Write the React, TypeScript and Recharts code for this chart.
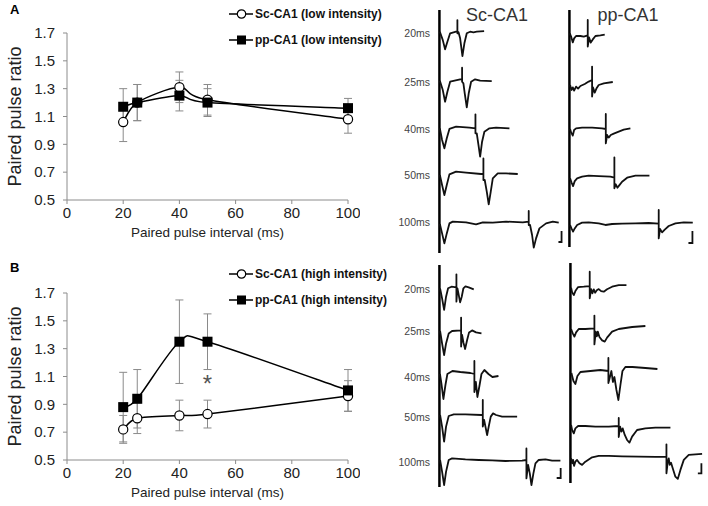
import React from 'react';
import {
  LineChart,
  Line,
  XAxis,
  YAxis,
  ErrorBar,
  Legend,
  ReferenceDot,
  ReferenceLine,
} from 'recharts';

// paired pulse ratio, mean +/- SEM
const intervals = [20, 25, 40, 50, 100];
const scLowMean = [1.06, 1.2, 1.31, 1.22, 1.08];
const scLowErr = [0.14, 0.13, 0.11, 0.11, 0.1];
const ppLowMean = [1.17, 1.2, 1.25, 1.2, 1.16];
const ppLowErr = [0.13, 0.13, 0.11, 0.1, 0.07];
const scHighMean = [0.72, 0.8, 0.82, 0.83, 0.96];
const scHighErr = [0.1, 0.11, 0.11, 0.1, 0.11];
const ppHighMean = [0.88, 0.94, 1.35, 1.35, 1.0];
const ppHighErr = [0.25, 0.21, 0.3, 0.2, 0.15];
const yTicks = [0.5, 0.7, 0.9, 1.1, 1.3, 1.5, 1.7];
const xTicks = [0, 20, 40, 60, 80, 100];
const rowLabels = ['20ms', '25ms', '40ms', '50ms', '100ms'];

// example traces: [time ms, mV]
type Pt = [number, number];
const scA20: Pt[] = [[0.5,0],[3.8,-0.42],[6.4,-0.88],[9,-0.5],[12.1,-0.08],[18.8,0],[20.3,0],[20.3,0.58],[20.3,-0.08],[21.5,-0.02],[23.4,-0.33],[26,-1.22],[28.2,-0.58],[30.9,-0.08],[34.7,0],[38.4,-0.03],[42.2,0],[50.5,0.03]];
const scA25: Pt[] = [[0.5,0],[3.8,-0.47],[6.4,-1.05],[9,-0.55],[12.1,-0.05],[19.6,0.03],[23.4,0.07],[25.6,0.07],[25.6,0.65],[25.6,-0.05],[27.1,-0.13],[28.6,-0.63],[30.9,-1.33],[33.1,-0.63],[35.8,-0.05],[40.3,0.07],[46,0],[59.1,-0.02]];
const scA40: Pt[] = [[0.5,0],[3,-0.58],[5.6,-1.0],[8.3,-0.5],[11.3,-0.03],[18.8,0.08],[33.9,0.03],[40.7,0],[40.7,0.7],[40.7,-0.25],[42.2,-0.25],[44.1,-0.83],[46,-1.42],[48.2,-0.67],[50.8,-0.17],[56.5,0],[64,0.03],[79.1,0]];
const scA50: Pt[] = [[0.5,0],[3,-0.5],[5.6,-1.0],[8.3,-0.5],[11.3,0.03],[18.8,0.17],[30.1,0.12],[47.1,0.05],[49.7,0.05],[49.7,0.83],[49.7,-0.25],[51.2,-0.25],[53.5,-0.83],[55.7,-1.47],[58,-0.83],[60.3,-0.17],[65.9,0.08],[75.3,0.08],[88.5,0.05]];
const scA100: Pt[] = [[0.5,0],[3,-0.47],[5.6,-0.97],[8.3,-0.47],[11.3,0.03],[15.1,0.12],[30.1,0.08],[41.4,-0.02],[49,0.08],[60.3,0.07],[75.3,0.12],[94.2,0.08],[100.9,0.12],[100.9,0.65],[100.9,-0.05],[102.4,-0.05],[104.7,-0.55],[106.6,-1.18],[109.2,-0.72],[113,-0.22],[120.5,0.03],[128.1,0.12],[134.8,0.07]];
const ppA20: Pt[] = [[0.4,0.08],[1.9,-0.08],[3.8,-0.37],[5.3,-0.17],[7.5,-0.05],[12.4,-0.05],[16.2,-0.08],[20.7,-0.02],[20.7,0.75],[20.7,-0.58],[22.2,-0.12],[24.1,-0.38],[26.4,-0.22],[29.4,-0.05],[35,-0.02],[39.9,0.02]];
const ppA25: Pt[] = [[0.75,0.05],[2.3,-0.2],[3.8,-0.07],[5.3,-0.23],[7.5,-0.03],[9.8,-0.13],[12.4,0],[17.3,0.1],[21.8,0.22],[25.6,0.3],[25.6,0.97],[25.6,-0.53],[26.7,-0.07],[28.6,-0.33],[30.5,-0.13],[33.1,0.05],[38.8,0.13],[49,0.2]];
const ppA40: Pt[] = [[0.75,0],[1.9,-0.17],[3.8,-0.33],[5.3,-0.05],[7.5,0.03],[14.3,0.07],[25.6,0.07],[36.9,0.03],[41.1,0],[41.1,0.75],[41.1,-0.72],[42.6,-0.3],[44.4,-0.43],[46.7,-0.3],[50.1,-0.23],[55.7,-0.13],[61.4,-0.03],[68.9,0.03]];
const ppA50: Pt[] = [[0.75,-0.03],[2.3,-0.23],[4.1,-0.42],[6,-0.17],[8.7,-0.03],[14.3,0.05],[21.8,0.1],[33.1,0.08],[46.3,0.05],[50.8,0],[50.8,1.02],[50.8,-0.53],[52.4,-0.33],[54.2,-0.5],[56.5,-0.37],[59.5,-0.2],[65.2,0],[74.6,0.1],[90.4,0.1]];
const ppA100: Pt[] = [[0.75,0],[2.3,-0.17],[4.1,-0.33],[6,-0.17],[8.7,0],[14.3,0.12],[21.8,0.13],[33.1,0.08],[40.7,0],[48.2,0.05],[59.5,0.07],[74.6,0.08],[89.6,0.1],[100.9,0.07],[100.9,0.75],[100.9,-0.67],[102.4,-0.2],[104.7,-0.37],[107.7,-0.23],[112.2,-0.05],[119.8,0.08],[129.2,0.13],[139.4,0.12]];
const scB20: Pt[] = [[0.75,0],[3,-0.5],[5.3,-1.08],[7.5,-0.42],[9.8,0],[13.6,0.08],[19.2,0.05],[19.2,0.7],[19.2,-0.67],[20.3,0],[21.8,-0.33],[23.4,-0.7],[25.2,-0.42],[27.1,0],[29.4,0.1],[33.1,0.05],[38.8,-0.05]];
const scB25: Pt[] = [[0.75,0],[3,-0.62],[5.3,-1.2],[7.5,-0.62],[10.5,-0.12],[14.3,0],[24.5,0.03],[24.5,0.67],[24.5,-0.78],[25.6,-0.2],[27.1,-0.57],[29,-0.9],[31.3,-0.45],[33.5,-0.07],[36.9,0.03],[41.4,-0.07],[47.5,-0.12]];
const scB40: Pt[] = [[0.6,0],[2.3,-0.5],[4.5,-1.25],[6.8,-0.55],[9,0],[14.7,0.15],[23.7,0.1],[35,0.05],[39.5,0],[39.5,0.65],[39.5,-0.9],[41.2,-0.4],[42.9,-1.15],[45.2,-0.6],[47.5,0],[50.8,0.2],[55.4,0],[59.9,-0.15],[66.7,-0.1]];
const scB50: Pt[] = [[0.75,0],[3,-0.58],[5.3,-1.33],[7.5,-0.58],[10.5,-0.05],[16.2,0.03],[29.4,0.03],[47.5,0],[49,0],[49,0.75],[49,-0.58],[50.5,-0.25],[52,-0.58],[53.9,-1.0],[55.7,-0.58],[58,-0.08],[60.6,0.08],[64,0],[70.8,-0.08],[87.8,-0.08]];
const scB100: Pt[] = [[0.75,0],[3,-0.58],[5.3,-1.25],[7.5,-0.58],[10.5,0],[14.3,0.08],[29.4,0.03],[44.4,0],[59.5,-0.02],[74.6,-0.05],[93.4,-0.03],[98.3,0],[98.3,0.58],[98.3,-0.92],[100.2,-0.25],[102.1,-0.67],[104,-1.25],[106.2,-0.67],[108.5,-0.17],[112.2,0],[119.8,0.03],[127.3,-0.03],[136.7,-0.03]];
const ppB20: Pt[] = [[0.75,0],[1.9,-0.23],[3.8,-0.37],[5.6,-0.17],[8.7,0.03],[15.1,0.05],[21.8,0.08],[21.8,0.8],[21.8,-0.53],[23.4,-0.07],[24.9,-0.28],[26.4,-0.08],[27.9,-0.25],[29.8,-0.13],[32,-0.07],[34.7,-0.17],[37.7,-0.2],[41.4,-0.08],[47.1,0.05],[54.6,0.13],[63.3,0.13]];
const ppB25: Pt[] = [[0.75,0],[2.6,-0.22],[4.5,-0.38],[6.4,-0.17],[9.4,0],[16.9,0],[27.1,0.03],[27.1,0.67],[27.1,-0.77],[28.6,-0.13],[29.8,-0.37],[30.9,-0.13],[32.8,-0.4],[35.8,-0.57],[38.8,-0.63],[41.4,-0.43],[47.1,-0.13],[54.6,0],[69.7,0.1],[84.7,0.15]];
const ppB40: Pt[] = [[1.1,0],[3.4,-0.4],[5.6,-0.55],[7.9,-0.15],[11.3,0.05],[22.6,0.1],[33.9,0.15],[42.9,0.1],[42.9,0.75],[42.9,-0.5],[45.2,-0.1],[46.3,0.1],[48,-0.45],[49.7,-0.2],[52,-0.85],[54.2,-1.35],[56.5,-0.6],[58.8,0.1],[62.1,0.3],[70.1,0.3],[84.7,0.25],[98.3,0.2]];
const ppB50: Pt[] = [[0.75,0],[1.9,-0.25],[3.8,-0.42],[5.6,-0.17],[8.7,-0.05],[16.9,-0.05],[28.2,-0.08],[43.3,-0.08],[54.6,-0.05],[54.6,0.35],[54.6,-0.6],[56.1,-0.08],[57.6,-0.33],[59.1,-0.17],[61.4,-0.5],[64,-0.75],[66.7,-0.88],[69.7,-0.58],[75.3,-0.25],[84.7,-0.17],[96,-0.13],[113,-0.13]];
const ppB100: Pt[] = [[0.75,0],[1.9,-0.25],[3,-0.08],[4.1,-0.38],[5.6,-0.17],[7.5,-0.08],[10.2,-0.25],[13.2,-0.33],[16.9,-0.17],[24.5,0.05],[32,0.12],[43.3,0.12],[58.4,0.1],[77.2,0.08],[96,0.07],[108.5,0.07],[108.5,0.7],[108.5,-0.75],[110,-0.17],[111.1,0],[112.2,-0.33],[113.7,-0.22],[115.6,-0.5],[118.6,-0.92],[121.3,-1.03],[124.3,-0.58],[128.1,-0.08],[133.7,0.17],[148.8,0.22]];

// scale bars (drawn on the 100ms row)
const barScA: Pt[] = [[134.5,-0.9],[138,-0.9],[138,-0.35]];
const barPpA: Pt[] = [[134.5,-0.9],[139,-0.9],[139,-0.3]];
const barScB: Pt[] = [[132.5,-0.9],[137,-0.9],[137,-0.4]];
const barPpB: Pt[] = [[144,-0.75],[148,-0.75],[148,-0.25]];

const TPX = 0.885; // px per ms
const VPX = 20; // px per mV
const FONT = '"Liberation Sans", Arial, sans-serif';

// excel-like smoothed line
const smoothCurve: any = (context: any) => {
  let pts: number[][] = [];
  return {
    areaStart() {},
    areaEnd() {},
    lineStart() {
      pts = [];
    },
    point(x: number, y: number) {
      pts.push([+x, +y]);
    },
    lineEnd() {
      const n = pts.length;
      if (!n) return;
      context.moveTo(pts[0][0], pts[0][1]);
      const k = 0.15;
      for (let i = 0; i < n - 1; i++) {
        const p0 = pts[i - 1] || pts[i];
        const p1 = pts[i];
        const p2 = pts[i + 1];
        const p3 = pts[i + 2] || p2;
        context.bezierCurveTo(
          p1[0] + (p2[0] - p0[0]) * k,
          p1[1] + (p2[1] - p0[1]) * k,
          p2[0] - (p3[0] - p1[0]) * k,
          p2[1] - (p3[1] - p1[1]) * k,
          p2[0],
          p2[1]
        );
      }
    },
  };
};

const circleDot = (p: any) => (
  <circle key={`c${p.index}`} cx={p.cx} cy={p.cy} r={4.6} fill="#fff" stroke="#000" strokeWidth={1.2} />
);
const squareDot = (p: any) => (
  <rect key={`s${p.index}`} x={p.cx - 5} y={p.cy - 5} width={10} height={10} fill="#000" />
);

function LegendIcon({ square }: { square?: boolean }) {
  return (
    <svg width={26} height={12} style={{ marginRight: 1, flex: 'none' }}>
      <line x1={1} y1={6} x2={25} y2={6} stroke="#000" strokeWidth={1.5} />
      {square ? (
        <rect x={9} y={1.5} width={9} height={9} fill="#000" />
      ) : (
        <circle cx={13.5} cy={6} r={4.2} fill="#fff" stroke="#000" strokeWidth={1.2} />
      )}
    </svg>
  );
}

function PprChart({
  top,
  sc,
  scErr,
  pp,
  ppErr,
  tag,
  star,
}: {
  top: number;
  sc: number[];
  scErr: number[];
  pp: number[];
  ppErr: number[];
  tag: string;
  star?: boolean;
}) {
  const data = intervals.map((x, i) => ({ x, sc: sc[i], scErr: scErr[i], pp: pp[i], ppErr: ppErr[i] }));
  const axisTick = { fontSize: 15, fill: '#222' };
  return (
    <div style={{ position: 'absolute', left: 0, top }}>
      <LineChart width={360} height={250} data={data} margin={{ top: 33, right: 12, bottom: 10, left: 7 }}>
        <XAxis
          dataKey="x"
          type="number"
          domain={[0, 100]}
          ticks={xTicks}
          tick={axisTick}
          tickSize={4}
          tickMargin={3}
          stroke="#8c8c8c"
          height={40}
          label={{ value: 'Paired pulse interval (ms)', position: 'insideBottom', offset: 3, fontSize: 13.5, fill: '#222' }}
        />
        <YAxis
          type="number"
          domain={[0.5, 1.7]}
          ticks={yTicks}
          tickFormatter={(v: number) => v.toFixed(1)}
          tick={axisTick}
          tickSize={4}
          tickMargin={8}
          stroke="#8c8c8c"
          width={60}
          label={{
            value: 'Paired pulse ratio',
            angle: -90,
            position: 'insideLeft',
            offset: 8,
            fontSize: 18,
            fill: '#222',
            style: { textAnchor: 'middle' },
          }}
        />
        <Legend
          layout="vertical"
          align="center"
          verticalAlign="middle"
          wrapperStyle={{ position: 'absolute', left: 228, top: 6, width: 180 }}
          content={() => (
            <div style={{ fontFamily: FONT, fontWeight: 'bold', fontSize: 12, color: '#111', whiteSpace: 'nowrap' }}>
              <div style={{ display: 'flex', alignItems: 'center', height: 16 }}>
                <LegendIcon />
                {`Sc-CA1 (${tag} intensity)`}
              </div>
              <div style={{ display: 'flex', alignItems: 'center', height: 16, marginTop: 10 }}>
                <LegendIcon square />
                {`pp-CA1 (${tag} intensity)`}
              </div>
            </div>
          )}
        />
        <Line
          dataKey="sc"
          type={smoothCurve}
          stroke="#000"
          strokeWidth={1.5}
          dot={circleDot}
          isAnimationActive={false}
        >
          <ErrorBar dataKey="scErr" width={4} stroke="#8a8a8a" strokeWidth={1} direction="y" />
        </Line>
        <Line
          dataKey="pp"
          type={smoothCurve}
          stroke="#000"
          strokeWidth={1.5}
          dot={squareDot}
          isAnimationActive={false}
        >
          <ErrorBar dataKey="ppErr" width={4} stroke="#8a8a8a" strokeWidth={1} direction="y" />
        </Line>
        {star && (
          <ReferenceDot
            x={50}
            y={1.05}
            r={0}
            stroke="none"
            label={{ value: '*', position: 'center', fontSize: 24, fill: '#555' }}
          />
        )}
      </LineChart>
    </div>
  );
}

const toPts = (arr: Pt[]) => arr.map(([t, v]) => ({ t, v }));

function TraceColumn({
  x0,
  top,
  bottom,
  baselines,
  traces,
  bar,
  tMax,
}: {
  x0: number;
  top: number;
  bottom: number;
  baselines: number[];
  traces: Pt[][];
  bar: Pt[];
  tMax: number;
}) {
  const T0 = -5;
  const height = bottom - top;
  const width = (tMax - T0) * TPX;
  return (
    <div style={{ position: 'absolute', left: x0 + T0 * TPX, top }}>
      <LineChart width={width} height={height} margin={{ top: 0, right: 0, bottom: 0, left: 0 }}>
        <XAxis type="number" dataKey="t" domain={[T0, tMax]} hide allowDataOverflow />
        {baselines.map((b, i) => (
          <YAxis
            key={i}
            yAxisId={i}
            type="number"
            hide
            allowDataOverflow
            domain={[-(bottom - b) / VPX, (b - top) / VPX]}
          />
        ))}
        <ReferenceLine x={0} yAxisId={0} stroke="#000" strokeWidth={2.5} />
        {traces.map((tr, i) => (
          <Line
            key={i}
            yAxisId={i}
            data={toPts(tr)}
            dataKey="v"
            type="linear"
            stroke="#111"
            strokeWidth={1.8}
            strokeLinejoin="round"
            dot={false}
            isAnimationActive={false}
          />
        ))}
        <Line
          yAxisId={baselines.length - 1}
          data={toPts(bar)}
          dataKey="v"
          type="linear"
          stroke="#111"
          strokeWidth={1.8}
          dot={false}
          isAnimationActive={false}
        />
      </LineChart>
    </div>
  );
}

const rowYA = [33, 82, 129, 175, 222];
const rowYB = [289, 331, 377, 417, 462];

export default function App() {
  const label = (text: string, y: number) => (
    <div
      key={text + y}
      style={{
        position: 'absolute',
        left: 380,
        width: 50,
        top: y - 7,
        lineHeight: '14px',
        textAlign: 'right',
        fontSize: 10.5,
        color: '#444',
      }}
    >
      {text}
    </div>
  );
  return (
    <div
      style={{
        position: 'absolute',
        left: 0,
        top: 0,
        width: 708,
        height: 506,
        background: '#fff',
        fontFamily: FONT,
        overflow: 'hidden',
      }}
    >
      <PprChart top={0} sc={scLowMean} scErr={scLowErr} pp={ppLowMean} ppErr={ppLowErr} tag="low" />
      <PprChart top={260} sc={scHighMean} scErr={scHighErr} pp={ppHighMean} ppErr={ppHighErr} tag="high" star />

      <div style={{ position: 'absolute', left: 10, top: 2, fontWeight: 'bold', fontSize: 13 }}>A</div>
      <div style={{ position: 'absolute', left: 10, top: 260, fontWeight: 'bold', fontSize: 13 }}>B</div>

      <div style={{ position: 'absolute', left: 456, width: 82, top: 4, textAlign: 'center', fontSize: 18, lineHeight: '22px', color: '#333' }}>
        Sc-CA1
      </div>
      <div style={{ position: 'absolute', left: 587, width: 82, top: 4, textAlign: 'center', fontSize: 18, lineHeight: '22px', color: '#333' }}>
        pp-CA1
      </div>

      {rowLabels.map((t, i) => label(t, rowYA[i]))}
      {rowLabels.map((t, i) => label(t, rowYB[i]))}

      <TraceColumn
        x0={439}
        top={10}
        bottom={253}
        baselines={[31.7, 80.7, 128.3, 175, 224]}
        traces={[scA20, scA25, scA40, scA50, scA100]}
        bar={barScA}
        tMax={142}
      />
      <TraceColumn
        x0={569}
        top={10}
        bottom={247}
        baselines={[35, 86, 129, 177.7, 225]}
        traces={[ppA20, ppA25, ppA40, ppA50, ppA100]}
        bar={barPpA}
        tMax={152}
      />
      <TraceColumn
        x0={439}
        top={265}
        bottom={487}
        baselines={[288.3, 331, 374, 415, 460]}
        traces={[scB20, scB25, scB40, scB50, scB100]}
        bar={barScB}
        tMax={142}
      />
      <TraceColumn
        x0={570}
        top={263}
        bottom={483}
        baselines={[287.7, 329, 373, 425, 458.3]}
        traces={[ppB20, ppB25, ppB40, ppB50, ppB100]}
        bar={barPpB}
        tMax={152}
      />
    </div>
  );
}
